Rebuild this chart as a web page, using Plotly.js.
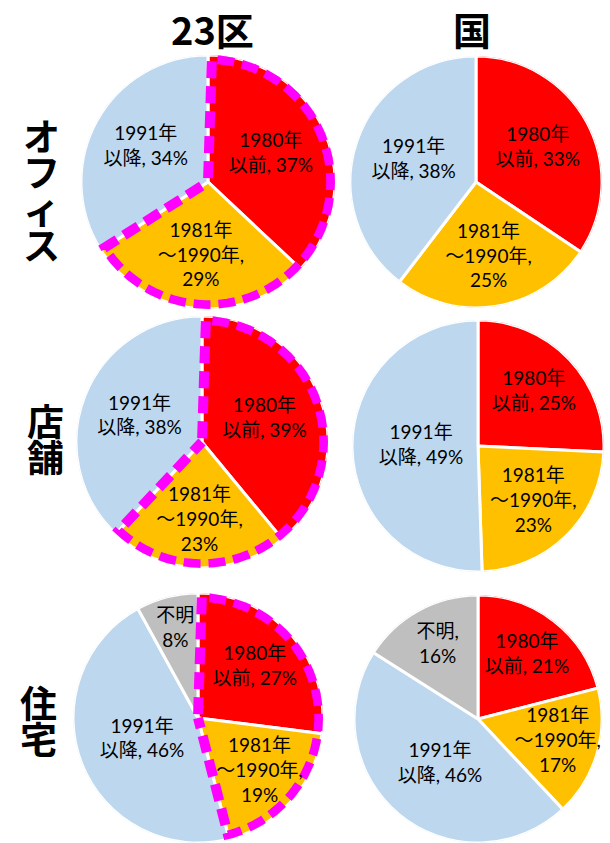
<!DOCTYPE html>
<html><head><meta charset="utf-8">
<script src="https://cdn.plot.ly/plotly-3.0.1.min.js"></script>
<style>html,body{margin:0;padding:0;background:#fff;}#chart{width:610px;height:843px;}</style>
</head><body><div id="chart"></div>
<script>
// ---------- data ----------
const categories = ['1980年以前', '1981年～1990年', '1991年以降', '不明'];
const columnTitles = ['23区', '国'];
const rowTitles = ['オフィス', '店舗', '住宅'];
const officeWard   = [37, 29, 34];
const officeNation = [33, 25, 38];
const storeWard    = [39, 23, 38];
const storeNation  = [25, 23, 49];
const houseWard    = [27, 19, 46, 8];
const houseNation  = [21, 17, 46, 16];
const labelHeadsWard   = ['1980年<br>以前, ', '1981年<br>～1990年,<br>', '1991年<br>以降, ', '不明<br>'];
const labelHeadsNation = ['1980年<br>以前, ', '1981年<br>～1990年,<br>', '1991年<br>以降, ', '不明,<br>'];

// ---------- styles / layout ----------
const colors = ['#FF0000', '#FFC000', '#BDD7EE', '#BFBFBF'];
const W = 610, H = 843;
const labelFont = {family: 'Lato, "Noto Sans CJK JP", sans-serif', size: 19, color: '#000'};
const headFont = {family: '"Noto Sans CJK JP", sans-serif', size: 38, color: '#000', weight: 700};
const rowFont = {family: '"Noto Sans CJK JP", sans-serif', size: 28, color: '#000', weight: 700};
const rowGlyphSize = 37;
const outlinedSlices = 2; // 1980年以前 + 1981年～1990年 outlined in the 23区 column

const charts = [
  {values: officeWard,   heads: labelHeadsWard,   outline: true,  cx: 208, cy: 182, rad: 127},
  {values: officeNation, heads: labelHeadsNation, outline: false, cx: 476, cy: 182, rad: 126},
  {values: storeWard,    heads: labelHeadsWard,   outline: true,  cx: 202, cy: 442, rad: 126},
  {values: storeNation,  heads: labelHeadsNation, outline: false, cx: 478, cy: 446, rad: 126},
  {values: houseWard,    heads: labelHeadsWard,   outline: true,  cx: 198, cy: 718, rad: 125},
  {values: houseNation,  heads: labelHeadsNation, outline: false, cx: 478, cy: 720, rad: 125}
];

const traces = [];
const layout = {
  width: W, height: H, margin: {l: 0, r: 0, t: 0, b: 0},
  paper_bgcolor: '#fff', plot_bgcolor: '#fff', showlegend: false,
  annotations: []
};

charts.forEach((c, i) => {
  const key = i === 0 ? 'polar' : 'polar' + (i + 1);
  const total = c.values.reduce((a, b) => a + b, 0);
  let cum = 0;
  const mids = [], widths = [], starts = [];
  c.values.forEach(v => {
    const w = v / total * 360;
    starts.push(cum);
    mids.push(cum + w / 2);
    widths.push(w);
    cum += w;
  });
  layout[key] = {
    domain: {x: [(c.cx - c.rad) / W, (c.cx + c.rad) / W], y: [1 - (c.cy + c.rad) / H, 1 - (c.cy - c.rad) / H]},
    bgcolor: 'rgba(0,0,0,0)', hole: 0, bargap: 0,
    angularaxis: {rotation: 90, direction: 'clockwise', visible: false, showgrid: false, showline: false, ticks: ''},
    radialaxis: {range: [0, 1], visible: false, showgrid: false, showline: false, ticks: ''}
  };
  traces.push({
    type: 'barpolar', subplot: key,
    r: c.values.map(() => 1), theta: mids, width: widths,
    marker: {color: colors.slice(0, c.values.length), line: {color: '#fff', width: 3}},
    hoverinfo: 'skip', showlegend: false
  });
  if (c.outline) {
    const end = starts[outlinedSlices - 1] + widths[outlinedSlices - 1];
    const th = [1.8], rr = [0.03];
    for (let a = 1.8; a < end; a += 1) { th.push(a); rr.push(0.97); }
    th.push(end); rr.push(0.97);
    th.push(end); rr.push(0);
    traces.push({
      type: 'scatterpolar', subplot: key, mode: 'lines', r: rr, theta: th,
      line: {color: '#FF00FF', width: 10, dash: '17px,8px'},
      cliponaxis: false, hoverinfo: 'skip', showlegend: false
    });
  }
  traces.push({
    type: 'scatterpolar', subplot: key, mode: 'text',
    r: c.values.map(v => 0.78 - 0.65 * (v / total)),
    theta: mids,
    text: c.values.map((v, k) => c.heads[k] + v + '%'),
    textposition: 'middle center', textfont: labelFont,
    cliponaxis: false, hoverinfo: 'skip', showlegend: false
  });
});

// column titles
[[212, 28], [472, 28]].forEach((p, i) => {
  layout.annotations.push({text: columnTitles[i], x: p[0] / W, y: 1 - p[1] / H, xref: 'paper', yref: 'paper',
    xanchor: 'center', yanchor: 'middle', showarrow: false, font: headFont});
});
// row titles (vertical: one character per line, tight line pitch)
const rowPos = [{x: 41, y: 189}, {x: 45, y: 438}, {x: 38, y: 720}];
rowTitles.forEach((t, i) => {
  const txt = Array.from(t).map(ch => `<span style="font-size:${rowGlyphSize}px">${ch}</span>`).join('<br>');
  layout.annotations.push({text: txt, x: rowPos[i].x / W, y: 1 - rowPos[i].y / H,
    xref: 'paper', yref: 'paper', xanchor: 'center', yanchor: 'middle', showarrow: false, font: rowFont});
});

Plotly.newPlot('chart', traces, layout, {staticPlot: true, displayModeBar: false});
</script>
</body></html>
